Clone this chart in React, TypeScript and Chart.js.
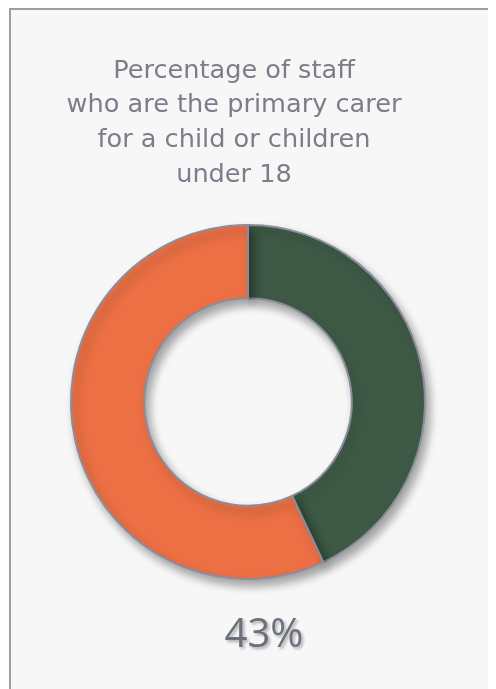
import React, { useEffect, useRef } from "react";
import { Chart, registerables } from "chart.js";

Chart.register(...registerables);

const labels = ["Primary carer", "Not primary carer"];
const values = [43, 57];
const colors = ["#3e5a46", "#ec7044"];
const titleLines = [
  "Percentage of staff",
  "who are the primary carer",
  "for a child or children",
  "under 18",
];

const shadowPlugin = {
  id: "donutShadow",
  beforeDatasetsDraw(chart: any) {
    const ctx = chart.ctx;
    ctx.save();
    ctx.shadowColor = "rgba(0,0,0,0.35)";
    ctx.shadowBlur = 10;
    ctx.shadowOffsetX = 4;
    ctx.shadowOffsetY = 6;
  },
  afterDatasetsDraw(chart: any) {
    chart.ctx.restore();
  },
};

const titlePlugin = {
  id: "offsetTitle",
  afterDraw(chart: any) {
    const ctx = chart.ctx;
    ctx.save();
    ctx.font = "400 25.6px 'DejaVu Sans'";
    ctx.fillStyle = "#7b7e8a";
    ctx.textAlign = "center";
    ctx.textBaseline = "middle";
    const x = (chart.chartArea.left + chart.chartArea.right) / 2 - 14;
    titleLines.forEach((line, i) => {
      ctx.fillText(line, x, 63 + i * 34.7);
    });
    ctx.restore();
  },
};

const valueTextPlugin = {
  id: "valueText",
  afterDraw(chart: any) {
    const ctx = chart.ctx;
    const txt = values[0] + "%";
    ctx.save();
    ctx.font = "400 40px 'Open Sans'";
    ctx.fillStyle = "#6c6f7c";
    ctx.textAlign = "center";
    ctx.textBaseline = "middle";
    ctx.shadowColor = "rgba(0,0,0,0.3)";
    ctx.shadowBlur = 3;
    ctx.shadowOffsetX = 2;
    ctx.shadowOffsetY = 2;
    const x = (chart.chartArea.left + chart.chartArea.right) / 2 + 16;
    ctx.fillText(txt, x, chart.chartArea.bottom + 56);
    ctx.restore();
  },
};

export default function App() {
  const ref = useRef<HTMLCanvasElement>(null);
  useEffect(() => {
    if (!ref.current) return;
    const chart = new Chart(ref.current, {
      type: "doughnut",
      data: {
        labels,
        datasets: [
          {
            data: values,
            backgroundColor: colors,
            borderColor: "#8b8d9c",
            borderWidth: 2,
          },
        ],
      },
      options: {
        animation: false,
        responsive: false,
        cutout: "58.6%",
        layout: { padding: { left: 62, right: 62, top: 216, bottom: 109 } },
        plugins: {
          legend: { display: false },
          tooltip: { enabled: false },
          title: { display: false },
        },
      },
      plugins: [shadowPlugin, titlePlugin, valueTextPlugin],
    });
    return () => chart.destroy();
  }, []);
  return (
    <div style={{ position: "relative", width: 488, height: 681, overflow: "hidden" }}>
      <div
        style={{
          position: "absolute",
          left: 1,
          top: 0,
          width: 560,
          height: 760,
          border: "2px solid #9d9dac",
          background: "#f7f7f7",
        }}
      />
      <canvas
        ref={ref}
        width={480}
        height={681}
        style={{ position: "absolute", left: 0, top: 0, width: 480, height: 681 }}
      />
    </div>
  );
}
